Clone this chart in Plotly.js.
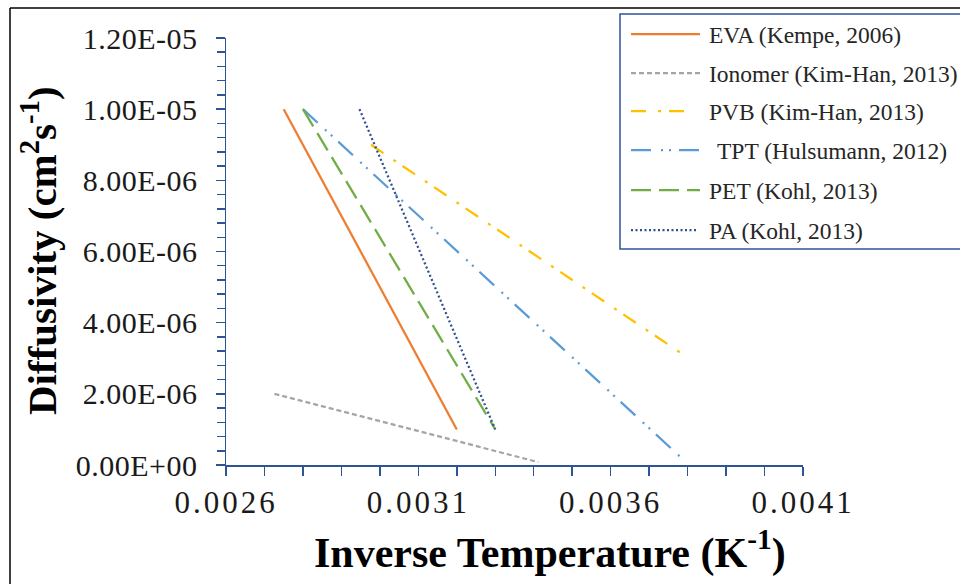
<!DOCTYPE html>
<html><head><meta charset="utf-8">
<script src="https://cdn.plot.ly/plotly-3.0.1.min.js"></script>
<style>html,body{margin:0;padding:0;background:#fff}#chart{width:960px;height:584px}
.xtick text{letter-spacing:3px}
.ytick text{letter-spacing:0.5px}
</style>
</head><body><div id="chart"></div>
<script>
// ---- data ----
const seriesNames = ["EVA (Kempe, 2006)", "Ionomer (Kim-Han, 2013)", "PVB (Kim-Han, 2013)", "TPT (Hulsumann, 2012)", "PET (Kohl, 2013)", "PA (Kohl, 2013)"];
const evaX = [0.00275, 0.0032];
const evaY = [1.0e-5, 1.0e-6];
const ionomerX = [0.002726, 0.003412];
const ionomerY = [2.0e-6, 0.08e-6];
const pvbX = [0.002977, 0.003789];
const pvbY = [9.0e-6, 3.1e-6];
const tptX = [0.0028, 0.003786];
const tptY = [1.0e-5, 0.18e-6];
const petX = [0.0028, 0.0033];
const petY = [1.0e-5, 1.0e-6];
const paX = [0.002947, 0.0033];
const paY = [1.0e-5, 1.0e-6];
const yTickVals = [0, 2e-6, 4e-6, 6e-6, 8e-6, 1e-5, 1.2e-5];
const yTickText = ["0.00E+00", "2.00E-06", "4.00E-06", "6.00E-06", "8.00E-06", "1.00E-05", "1.20E-05"];
const xTickVals = [0.0026, 0.0031, 0.0036, 0.0041];
const xTickText = ["0.0026", "0.0031", "0.0036", "0.0041"];
const xTitle = "Inverse Temperature (K<sup>-1</sup>)";
const yTitle = "Diffusivity (cm<sup>2</sup>s<sup>-1</sup>)";

// ---- styles ----
const colors = ["#ED7D31", "#A5A5A5", "#FFC000", "#5B9BD5", "#70AD47", "#2F4F8F"];
const dashes = ["solid", "5px,3px", "15px,12px,3px,8px", "20px,10px,2px,6px,2px,8px", "20px,8px", "2px,2.5px"];
const axisColor = "#2F5496";
const serif = "'Liberation Serif', 'Times New Roman', serif";

const W = 960, H = 584, L = 226, R = 157, T = 38, B = 119;
const pw = W - L - R, ph = H - T - B;
const px = v => (v - L) / pw;
const py = v => (H - B - v) / ph;

const xs = [evaX, ionomerX, pvbX, tptX, petX, paX];
const ys = [evaY, ionomerY, pvbY, tptY, petY, paY];
const traces = xs.map((x, i) => ({
  type: "scatter", mode: "lines", x: x, y: ys[i], name: seriesNames[i],
  line: {color: colors[i], width: 2.25, dash: dashes[i]}, showlegend: false, hoverinfo: "skip"
}));

const shapes = [
  {type: "line", xref: "paper", yref: "paper", x0: px(10), x1: px(965), y0: py(8), y1: py(8), line: {color: "#000", width: 1.5}},
  {type: "line", xref: "paper", yref: "paper", x0: px(10), x1: px(10), y0: py(8), y1: py(590), line: {color: "#000", width: 1.5}},
  {type: "rect", xref: "paper", yref: "paper", x0: px(620), x1: px(975), y0: py(14), y1: py(249), line: {color: axisColor, width: 1.5}, fillcolor: "rgba(255,255,255,0)"}
];
const annotations = [];
const legY = [34, 73, 111, 150, 190, 230];
const legEnd = [700, 700, 690, 700, 700, 696];
const legTextX = [707, 707, 707, 715, 707, 707];
seriesNames.forEach((n, i) => {
  shapes.push({type: "line", xref: "paper", yref: "paper", x0: px(631), x1: px(legEnd[i]), y0: py(legY[i]), y1: py(legY[i]),
    line: {color: colors[i], width: 2.25, dash: dashes[i]}});
  annotations.push({xref: "paper", yref: "paper", x: px(legTextX[i]), y: py(legY[i] + 1), xanchor: "left", yanchor: "middle",
    text: n, showarrow: false, font: {family: serif, size: 23.5, color: "#262626"}});
});
annotations.push({xref: "paper", yref: "paper", x: px(550), y: py(550), xanchor: "center", yanchor: "middle",
  text: "<b>" + xTitle + "</b>", showarrow: false, font: {family: serif, size: 42, color: "#000"}});
annotations.push({xref: "paper", yref: "paper", x: px(39), y: py(251), xanchor: "center", yanchor: "middle", textangle: -90,
  text: "<b>" + yTitle + "</b>", showarrow: false, font: {family: serif, size: 41, color: "#000"}});

const layout = {
  width: W, height: H, margin: {l: L, r: R, t: T, b: B, pad: 0},
  paper_bgcolor: "#fff", plot_bgcolor: "#fff", showlegend: false,
  xaxis: {range: [0.0026, 0.0041], autorange: false, tickmode: "array", tickvals: xTickVals, ticktext: xTickText,
    ticks: "outside", ticklen: 9, tickwidth: 1.5, tickcolor: axisColor, showline: true, linecolor: axisColor, linewidth: 1.5,
    showgrid: false, zeroline: false, ticklabelstandoff: 0, tickfont: {family: serif, size: 31, color: "#1a1a1a"},
    minor: {tickmode: "linear", tick0: 0.0026, dtick: 0.0001, ticks: "outside", ticklen: 9, tickwidth: 1.5, tickcolor: axisColor, showgrid: false}},
  yaxis: {range: [0, 1.2e-5], autorange: false, tickmode: "array", tickvals: yTickVals, ticktext: yTickText,
    ticks: "outside", ticklen: 9, tickwidth: 1.5, tickcolor: axisColor, showline: true, linecolor: axisColor, linewidth: 1.5,
    showgrid: false, zeroline: false, ticklabelstandoff: 12, tickfont: {family: serif, size: 30, color: "#1a1a1a"},
    minor: {tickmode: "linear", tick0: 0, dtick: 4e-7, ticks: "outside", ticklen: 8, tickwidth: 1.5, tickcolor: axisColor, showgrid: false}},
  shapes: shapes, annotations: annotations
};
Plotly.newPlot("chart", traces, layout, {staticPlot: true, displayModeBar: false});
</script></body></html>
